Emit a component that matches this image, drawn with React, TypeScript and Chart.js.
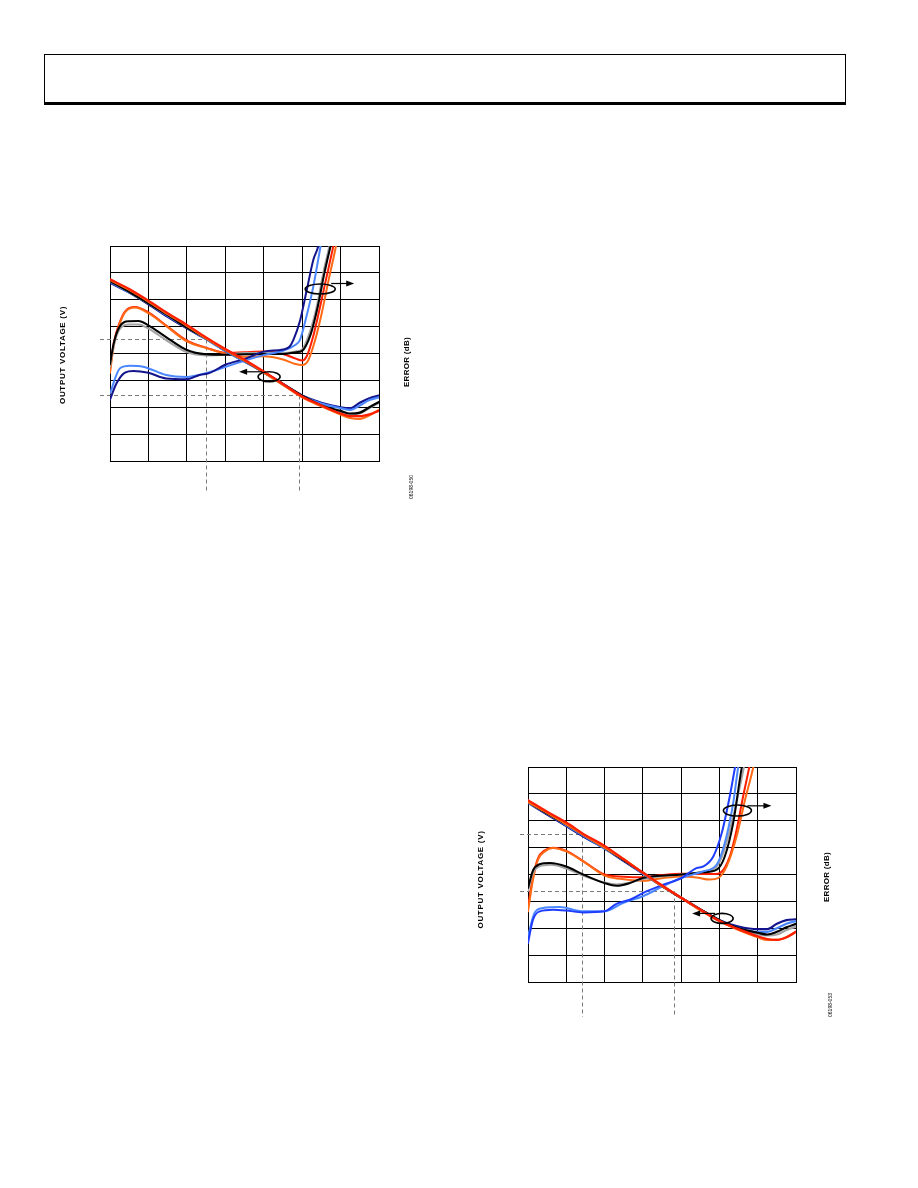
import React, { useEffect, useRef } from "react";
import { Chart, registerables } from "chart.js";
Chart.register(...registerables);

// ---- Axes (tick labels are not shown in the reference) ----
const xMin = -65; // input level, dBm
const xMax = 5;
const xStep = 10;
const voutMin = 0; // output voltage, V
const voutMax = 2.4;
const errMin = -4; // error, dB
const errMax = 4;
const errStep = 1;

// Shared input-level samples for the output-voltage curves (dBm)
const voutX = [-65, -60, -55, -50, -45, -40, -35, -30, -25, -20, -15, -10, -5, -2.5, 0, 2.5, 5];

// ---- Chart 1 : output voltage (V) ----
const c1VoutRed = [2.03, 1.92, 1.79, 1.65, 1.52, 1.38, 1.25, 1.13, 1.0, 0.86, 0.72, 0.62, 0.53, 0.5, 0.5, 0.52, 0.56];
const c1VoutOrange = [2.02, 1.91, 1.78, 1.64, 1.51, 1.37, 1.24, 1.12, 0.99, 0.85, 0.71, 0.61, 0.52, 0.48, 0.47, 0.51, 0.57];
const c1VoutBlack = [2.01, 1.89, 1.76, 1.63, 1.49, 1.37, 1.24, 1.12, 0.99, 0.86, 0.73, 0.62, 0.56, 0.53, 0.54, 0.6, 0.66];
const c1VoutGray = [2.01, 1.89, 1.76, 1.63, 1.49, 1.37, 1.24, 1.12, 0.99, 0.85, 0.72, 0.62, 0.54, 0.52, 0.53, 0.59, 0.65];
const c1VoutNavy = [1.99, 1.88, 1.75, 1.61, 1.48, 1.36, 1.23, 1.11, 0.99, 0.86, 0.73, 0.65, 0.6, 0.59, 0.65, 0.7, 0.73];
const c1VoutBlue = [2.0, 1.88, 1.76, 1.62, 1.49, 1.36, 1.23, 1.11, 0.99, 0.86, 0.73, 0.64, 0.59, 0.57, 0.62, 0.68, 0.71];

// ---- Chart 1 : error (dB), [dBm, dB] ----
const c1ErrNavy: [number, number][] = [[-65, -1.72], [-63.3, -1.11], [-61.1, -0.71], [-58.9, -0.65], [-55, -0.72], [-50.4, -0.93], [-45, -0.96], [-41.7, -0.8], [-39.2, -0.73], [-35, -0.42], [-29.7, -0.19], [-25, 0.07], [-20, 0.15], [-18.3, 0.25], [-17.3, 0.5], [-15.5, 1.25], [-13.8, 2.36], [-12.1, 3.48], [-10.8, 4.0], [-9.8, 4.8]];
const c1ErrBlue: [number, number][] = [[-65, -1.48], [-62.4, -0.55], [-59.8, -0.46], [-56.4, -0.49], [-50.4, -0.8], [-45, -0.87], [-40, -0.73], [-35, -0.5], [-29.7, -0.25], [-25, -0.06], [-20, 0.1], [-17, 0.3], [-15.6, 0.5], [-13.9, 1.37], [-12.1, 2.49], [-10.2, 4.0], [-9.2, 4.8]];
const c1ErrBlack: [number, number][] = [[-65, -0.4], [-64, 0.4], [-62.5, 1.0], [-60, 1.2], [-57.6, 1.21], [-55, 1.05], [-50.4, 0.61], [-45, 0.13], [-40, -0.03], [-35, -0.05], [-30, -0.03], [-25, -0.02], [-20, -0.02], [-16.5, 0.05], [-15, 0.1], [-12.8, 0.7], [-11, 1.7], [-9.2, 3.0], [-7.6, 4.0], [-6.6, 4.6]];
const c1ErrGray: [number, number][] = [[-65, -0.5], [-64, 0.3], [-62.5, 0.9], [-60, 1.08], [-57.6, 1.08], [-55, 0.93], [-50.4, 0.5], [-45, 0.05], [-40, -0.07], [-35, -0.05], [-30, 0.02], [-25, 0.03], [-20, 0.02], [-16.5, 0.08], [-15, 0.15], [-13, 0.8], [-11.2, 1.74], [-9.5, 3.0], [-7.9, 4.0], [-7, 4.6]];
const c1ErrRed: [number, number][] = [[-65, -0.6], [-64, 0.4], [-62.5, 1.15], [-61, 1.58], [-58.5, 1.73], [-55, 1.53], [-50, 1.0], [-45, 0.48], [-40, 0.22], [-35, 0.03], [-30, 0.05], [-25, 0.07], [-20, -0.02], [-16.5, -0.2], [-15, -0.26], [-13.8, -0.1], [-12.1, 0.65], [-10.3, 1.76], [-8.6, 2.88], [-6.9, 3.98], [-6, 4.6]];
const c1ErrOrange: [number, number][] = [[-65, -0.72], [-64, 0.3], [-62.5, 1.1], [-61, 1.55], [-58.5, 1.71], [-55, 1.5], [-50, 0.98], [-45, 0.45], [-40, 0.2], [-35, 0.0], [-30, -0.12], [-25, -0.1], [-20, -0.22], [-17, -0.38], [-15, -0.43], [-13.4, -0.25], [-11.6, 0.51], [-9.9, 1.5], [-8.1, 2.74], [-6.4, 3.85], [-5.5, 4.5]];

// ---- Chart 2 : output voltage (V) ----
const c2VoutRed = [2.03, 1.9, 1.78, 1.64, 1.52, 1.37, 1.22, 1.08, 0.94, 0.81, 0.68, 0.59, 0.51, 0.48, 0.47, 0.5, 0.56];
const c2VoutOrange = [2.01, 1.89, 1.76, 1.63, 1.5, 1.37, 1.22, 1.07, 0.94, 0.8, 0.68, 0.58, 0.5, 0.47, 0.47, 0.5, 0.56];
const c2VoutBlack = [2.01, 1.88, 1.76, 1.63, 1.5, 1.36, 1.22, 1.07, 0.94, 0.81, 0.69, 0.6, 0.55, 0.53, 0.56, 0.61, 0.65];
const c2VoutGray = [2.01, 1.88, 1.76, 1.63, 1.5, 1.36, 1.22, 1.07, 0.94, 0.81, 0.68, 0.59, 0.53, 0.52, 0.53, 0.58, 0.62];
const c2VoutNavy = [2.0, 1.87, 1.74, 1.61, 1.49, 1.35, 1.21, 1.07, 0.94, 0.81, 0.69, 0.62, 0.59, 0.59, 0.65, 0.69, 0.7];
const c2VoutBlue = [2.0, 1.88, 1.75, 1.62, 1.49, 1.36, 1.21, 1.07, 0.94, 0.81, 0.69, 0.6, 0.56, 0.56, 0.6, 0.65, 0.68];

// ---- Chart 2 : error (dB), [dBm, dB] ----
const c2ErrBlue: [number, number][] = [[-65, -2.55], [-63.7, -1.68], [-61.9, -1.37], [-58.5, -1.31], [-55, -1.34], [-50.6, -1.41], [-45, -1.37], [-41.9, -1.09], [-38.4, -0.94], [-35, -0.69], [-29.7, -0.38], [-24.9, -0.13], [-21, 0.24], [-19.2, 0.3], [-16.6, 0.67], [-14.4, 1.54], [-12.3, 2.91], [-10.9, 4.0], [-10, 4.6]];
const c2ErrLight: [number, number][] = [[-65, -2.3], [-63.3, -1.43], [-61.1, -1.25], [-56.7, -1.21], [-50.6, -1.37], [-45, -1.37], [-40.2, -1.06], [-35, -0.81], [-29.7, -0.43], [-24.9, -0.13], [-19.2, 0.12], [-15.7, 0.37], [-13.6, 1.17], [-11.4, 2.66], [-10.1, 4.0], [-9.3, 4.6]];
const c2ErrBlack: [number, number][] = [[-65, -0.5], [-63.7, 0.15], [-62, 0.38], [-59.3, 0.43], [-55, 0.3], [-50.6, 0.0], [-45, -0.32], [-41.9, -0.42], [-38.4, -0.32], [-35, -0.13], [-24.9, 0.0], [-19.2, 0.08], [-15.7, 0.18], [-13.6, 0.67], [-11.4, 1.92], [-9.2, 3.96], [-8.4, 4.5]];
const c2ErrGray: [number, number][] = [[-65, -0.6], [-63.7, 0.05], [-62, 0.3], [-58.9, 0.36], [-55, 0.22], [-50.6, -0.04], [-45, -0.3], [-41.9, -0.37], [-38.4, -0.3], [-35, -0.17], [-24.9, 0.0], [-19.2, 0.1], [-15.7, 0.3], [-14, 0.8], [-11.4, 2.16], [-8.6, 4.0], [-7.8, 4.6]];
const c2ErrRed: [number, number][] = [[-65, -1.2], [-63.7, -0.1], [-62.4, 0.6], [-60.6, 0.9], [-58.5, 1.0], [-55, 0.88], [-50.6, 0.5], [-45, 0.0], [-40, -0.08], [-35, -0.1], [-30, -0.02], [-25, 0.03], [-20, 0.02], [-16, 0.02], [-14.9, 0.05], [-12.3, 0.67], [-10.5, 1.67], [-8.8, 2.91], [-7.2, 4.0], [-6.4, 4.6]];
const c2ErrOrange: [number, number][] = [[-65, -1.37], [-63.7, -0.19], [-62.4, 0.55], [-60.6, 0.86], [-58.5, 0.99], [-55, 0.86], [-50.6, 0.49], [-45, -0.04], [-41, -0.16], [-35, -0.23], [-29.7, -0.13], [-24.9, -0.07], [-21, -0.11], [-17.5, -0.19], [-15.3, -0.13], [-13.1, 0.3], [-10.5, 1.42], [-8.3, 2.78], [-6.2, 3.96], [-5.4, 4.5]];

// ---- Reference (dashed) points : input dBm / output V ----
const c1RefX = [-40, -15.7];
const c1RefV = [1.36, 0.74];
const c2RefX = [-50.8, -26.9];
const c2RefV = [1.65, 1.02];

// ---- Text ----
const leftTitle = "OUTPUT VOLTAGE (V)";
const rightTitle = "ERROR (dB)";
const c1Code = "06198-050";
const c2Code = "06198-053";

const COL = {
  navy: "#13138c",
  blue: "#1f3dff",
  light: "#4a86ff",
  black: "#000000",
  gray: "#a3a3a3",
  red: "#ff1e00",
  orange: "#ff6a14",
};

const FONT = '"Liberation Sans", Arial, sans-serif';

function voutSet(vals: number[], color: string) {
  return {
    data: voutX.map((x, i) => ({ x, y: vals[i] })),
    borderColor: color,
    borderWidth: 2.2,
    yAxisID: "y",
  };
}
function errSet(pts: [number, number][], color: string) {
  return {
    data: pts.map(([x, y]) => ({ x, y })),
    borderColor: color,
    borderWidth: 2,
    yAxisID: "y2",
  };
}

const annotPlugin = {
  id: "annot",
  beforeDatasetsDraw(chart: any, _a: any, opts: any) {
    const { ctx, chartArea: a, scales } = chart;
    ctx.save();
    ctx.strokeStyle = "#7a7a7a";
    ctx.lineWidth = 1;
    ctx.setLineDash([4, 3]);
    opts.refX.forEach((rx: number, i: number) => {
      const px = Math.round(scales.x.getPixelForValue(rx)) + 0.5;
      const py = Math.round(scales.y.getPixelForValue(opts.refV[i])) + 0.5;
      ctx.beginPath();
      ctx.moveTo(a.left - opts.refLeft, py);
      ctx.lineTo(px, py);
      ctx.stroke();
      ctx.beginPath();
      ctx.moveTo(px, py);
      ctx.lineTo(px, a.bottom + opts.refBelow);
      ctx.stroke();
    });
    ctx.restore();
  },
  afterDraw(chart: any, _a: any, opts: any) {
    const { ctx, chartArea: a, scales } = chart;
    ctx.save();
    // ellipses with arrows
    opts.marks.forEach((m: any) => {
      const cx = scales.x.getPixelForValue(m.x);
      const cy = scales[m.axis].getPixelForValue(m.y);
      ctx.strokeStyle = "#000";
      ctx.lineWidth = 1.6;
      ctx.beginPath();
      ctx.ellipse(cx, cy, m.rx, m.ry, 0, 0, Math.PI * 2);
      ctx.stroke();
      const ay = cy - m.dy;
      const dir = m.dir;
      const x0 = cx + dir * (m.rx - 4);
      const x1 = cx + dir * (m.rx + m.len);
      ctx.lineWidth = 1.2;
      ctx.beginPath();
      ctx.moveTo(x0, ay);
      ctx.lineTo(x1 - dir * 6, ay);
      ctx.stroke();
      ctx.fillStyle = "#000";
      ctx.beginPath();
      ctx.moveTo(x1, ay);
      ctx.lineTo(x1 - dir * 8, ay - 3);
      ctx.lineTo(x1 - dir * 8, ay + 3);
      ctx.closePath();
      ctx.fill();
    });
    // axis titles, rotated
    ctx.fillStyle = "#000";
    ctx.textAlign = "center";
    ctx.textBaseline = "middle";
    const midY = (a.top + a.bottom) / 2;
    const drawRot = (text: string, x: number, y: number, font: string, spacing: string) => {
      ctx.save();
      ctx.font = font;
      try {
        (ctx as any).letterSpacing = spacing;
      } catch (e) {}
      ctx.translate(x, y);
      ctx.rotate(-Math.PI / 2);
      ctx.fillText(text, 0, 0);
      ctx.restore();
    };
    drawRot(leftTitle, a.left - opts.lt.dx, midY + opts.lt.dy, `bold 8px ${FONT}`, "0.7px");
    drawRot(rightTitle, a.right + opts.rt.dx, midY + opts.rt.dy, `bold 8px ${FONT}`, "0.3px");
    drawRot(opts.code, a.right + opts.cd.dx, a.bottom + opts.cd.dy, `5px ${FONT}`, "0px");
    ctx.restore();
  },
};

function DetectorChart(props: any) {
  const ref = useRef<HTMLCanvasElement>(null);
  const { left, top, width, height, pad, datasets, annot } = props;
  useEffect(() => {
    const chart = new Chart(ref.current as HTMLCanvasElement, {
      type: "line",
      data: { datasets },
      options: {
        animation: false,
        responsive: false,
        maintainAspectRatio: false,
        events: [],
        layout: { padding: pad },
        plugins: {
          legend: { display: false },
          tooltip: { enabled: false },
          annot,
        } as any,
        elements: {
          point: { radius: 0 },
          line: { cubicInterpolationMode: "monotone", borderCapStyle: "round", borderJoinStyle: "round" },
        },
        scales: {
          x: {
            type: "linear",
            min: xMin,
            max: xMax,
            ticks: { display: false, stepSize: xStep },
            grid: { color: "#000", lineWidth: 1, drawTicks: false },
            border: { display: true, color: "#000", width: 1 },
          },
          y: {
            type: "linear",
            position: "left",
            display: false,
            min: voutMin,
            max: voutMax,
          },
          y2: {
            type: "linear",
            position: "right",
            min: errMin,
            max: errMax,
            ticks: { display: false, stepSize: errStep },
            grid: { color: "#000", lineWidth: 1, drawTicks: false },
            border: { display: true, color: "#000", width: 1 },
          },
        },
      } as any,
      plugins: [annotPlugin as any],
    });
    return () => chart.destroy();
  }, []);
  return (
    <canvas
      ref={ref}
      width={width}
      height={height}
      style={{ position: "absolute", left, top, width, height, display: "block" }}
    />
  );
}

const chart1Sets = [
  voutSet(c1VoutRed, COL.red),
  voutSet(c1VoutOrange, COL.orange),
  voutSet(c1VoutBlack, COL.black),
  voutSet(c1VoutGray, COL.gray),
  voutSet(c1VoutBlue, COL.light),
  voutSet(c1VoutNavy, COL.navy),
  errSet(c1ErrNavy, COL.navy),
  errSet(c1ErrBlue, COL.light),
  errSet(c1ErrBlack, COL.black),
  errSet(c1ErrGray, COL.gray),
  errSet(c1ErrOrange, COL.orange),
  errSet(c1ErrRed, COL.red),
];

const chart2Sets = [
  voutSet(c2VoutRed, COL.red),
  voutSet(c2VoutOrange, COL.orange),
  voutSet(c2VoutBlack, COL.black),
  voutSet(c2VoutGray, COL.gray),
  voutSet(c2VoutBlue, COL.light),
  voutSet(c2VoutNavy, COL.navy),
  errSet(c2ErrBlue, COL.blue),
  errSet(c2ErrLight, COL.light),
  errSet(c2ErrBlack, COL.black),
  errSet(c2ErrGray, COL.gray),
  errSet(c2ErrOrange, COL.orange),
  errSet(c2ErrRed, COL.red),
];

const annot1 = {
  refX: c1RefX,
  refV: c1RefV,
  refLeft: 10,
  refBelow: 32,
  marks: [
    { x: -10.3, y: 2.4, axis: "y2", rx: 15, ry: 5, dir: 1, dy: 5.5, len: 19 },
    { x: -23.6, y: 0.94, axis: "y", rx: 11, ry: 5, dir: -1, dy: 5, len: 19 },
  ],
  lt: { dx: 47, dy: 1.5 },
  rt: { dx: 28, dy: 8.5 },
  cd: { dx: 33, dy: 26 },
  code: c1Code,
};

const annot2 = {
  refX: c2RefX,
  refV: c2RefV,
  refLeft: 8,
  refBelow: 35,
  marks: [
    { x: -10.3, y: 2.38, axis: "y2", rx: 14, ry: 5.5, dir: 1, dy: 4.7, len: 20 },
    { x: -14.3, y: 0.71, axis: "y", rx: 11, ry: 5, dir: -1, dy: 5, len: 19 },
  ],
  lt: { dx: 47, dy: 5 },
  rt: { dx: 31, dy: 2.5 },
  cd: { dx: 35, dy: 23 },
  code: c2Code,
};

export default function App() {
  return (
    <div style={{ position: "absolute", left: 0, top: 0, width: 918, height: 1188, background: "#fff" }}>
      <div
        style={{
          position: "absolute",
          left: 44,
          top: 54,
          width: 800,
          height: 47,
          borderTop: "1px solid #000",
          borderLeft: "1px solid #000",
          borderRight: "1px solid #000",
          borderBottom: "3px solid #000",
        }}
      />
      <DetectorChart
        left={40}
        top={230}
        width={400}
        height={290}
        pad={{ left: 70, top: 16, right: 61, bottom: 59 }}
        datasets={chart1Sets}
        annot={annot1}
      />
      <DetectorChart
        left={460}
        top={750}
        width={400}
        height={290}
        pad={{ left: 68, top: 17, right: 64, bottom: 58 }}
        datasets={chart2Sets}
        annot={annot2}
      />
    </div>
  );
}
